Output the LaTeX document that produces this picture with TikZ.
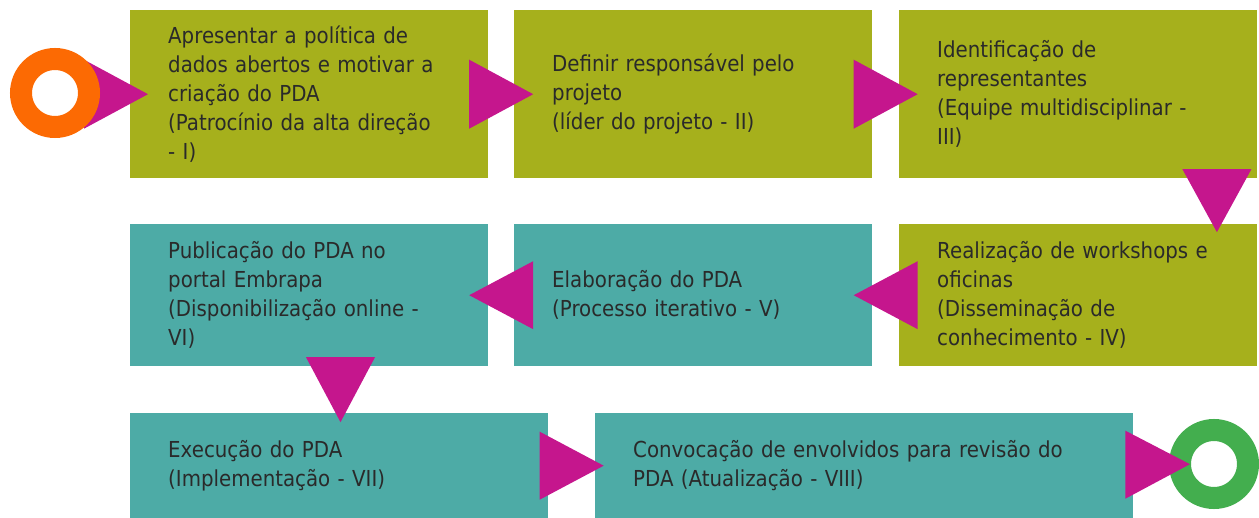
\documentclass[tikz,border=0pt]{standalone}
\usepackage{fontspec}
\setmainfont{DejaVu Sans}[FakeStretch=0.9]
\usetikzlibrary{calc}
\definecolor{boxolive}{HTML}{A6B01C}
\definecolor{boxteal}{HTML}{4DABA6}
\definecolor{trimag}{HTML}{C5168D}
\definecolor{ringorange}{HTML}{FC6A03}
\definecolor{ringgreen}{HTML}{43AE4E}
\definecolor{txt}{HTML}{2A2A2A}
\begin{document}
\begin{tikzpicture}[x=1pt,y=-1pt,
  stepbox/.style={rectangle, inner xsep=38pt, inner ysep=0pt, anchor=north west,
    align=left, font=\fontsize{22}{29}\selectfont, text=txt},
  olivebox/.style={stepbox, fill=boxolive},
  tealbox/.style={stepbox, fill=boxteal},
  tri/.style={fill=trimag},
  ring/.style={circle, inner sep=0pt, minimum size=68pt, line width=22pt}]
\useasboundingbox (0,0) rectangle (1259,518);
% row 1
\node[olivebox, text width=282pt, minimum height=168pt] (b1) at (130,10)
  {Apresentar a política de\\dados abertos e motivar a\\criação do PDA\\(Patrocínio da alta direção\\- I)};
\node[olivebox, text width=282pt, minimum height=168pt] (b2) at (514,10)
  {Definir responsável pelo\\projeto\\(líder do projeto - II)};
\node[olivebox, text width=282pt, minimum height=168pt] (b3) at (899,10)
  {Identificação de\\representantes\\(Equipe multidisciplinar -\\III)};
% row 2
\node[tealbox, text width=282pt, minimum height=142pt] (b4) at (130,224)
  {Publicação do PDA no\\portal Embrapa\\(Disponibilização online -\\VI)};
\node[tealbox, text width=282pt, minimum height=142pt] (b5) at (514,224)
  {Elaboração do PDA\\(Processo iterativo - V)};
\node[olivebox, text width=282pt, minimum height=142pt] (b6) at (899,224)
  {Realização de workshops e\\oficinas\\(Disseminação de\\conhecimento - IV)};
% row 3
\node[tealbox, text width=342pt, minimum height=105pt] (b7) at (130,413)
  {Execução do PDA\\(Implementação - VII)};
\node[tealbox, text width=462pt, minimum height=105pt] (b8) at (595,413)
  {Convocação de envolvidos para revisão do\\PDA (Atualização - VIII)};
% start
\fill[tri] ($(b1.west)+(-46,-34.5)$) -- ($(b1.west)+(18,0)$) -- ($(b1.west)+(-46,34.5)$) -- cycle;
\node[ring, draw=ringorange] (startc) at (55,93) {};
% end
\node[ring, draw=ringgreen] (endc) at (1214,464) {};
\fill[tri] ($(b8.east)+(-8,-35)$) -- ($(b8.east)+(56.5,-1.5)$) -- ($(b8.east)+(-8,33)$) -- cycle;
% arrows between steps
\fill[tri] ($(b1.east)!0.5!(b2.west)$) ++(-32,-34.5) -- ++(64,34.5) -- ++(-64,34.5) -- cycle;
\fill[tri] ($(b2.east)!0.5!(b3.west)$) ++(-32,-34.5) -- ++(64,34.5) -- ++(-64,34.5) -- cycle;
\fill[tri] ($(b3.south east)!0.5!(b6.north east)+(-40.5,0)$) ++(-34.5,-32) -- ++(69,0) -- ++(-34.5,63) -- cycle;
\fill[tri] ($(b6.west)!0.5!(b5.east)$) ++(32,-34) -- ++(-64,34) -- ++(64,34) -- cycle;
\fill[tri] ($(b5.west)!0.5!(b4.east)$) ++(32,-34) -- ++(-64,34) -- ++(64,34) -- cycle;
\fill[tri] ($(b4.south west)!0.5!(b7.north west)+(210.5,0)$) ++(-34.5,-32.5) -- ++(69,0) -- ++(-34.5,65) -- cycle;
\fill[tri] ($(b7.east)!0.5!(b8.west)$) ++(-32,-34) -- ++(64,34) -- ++(-64,34) -- cycle;
\end{tikzpicture}
\end{document}
